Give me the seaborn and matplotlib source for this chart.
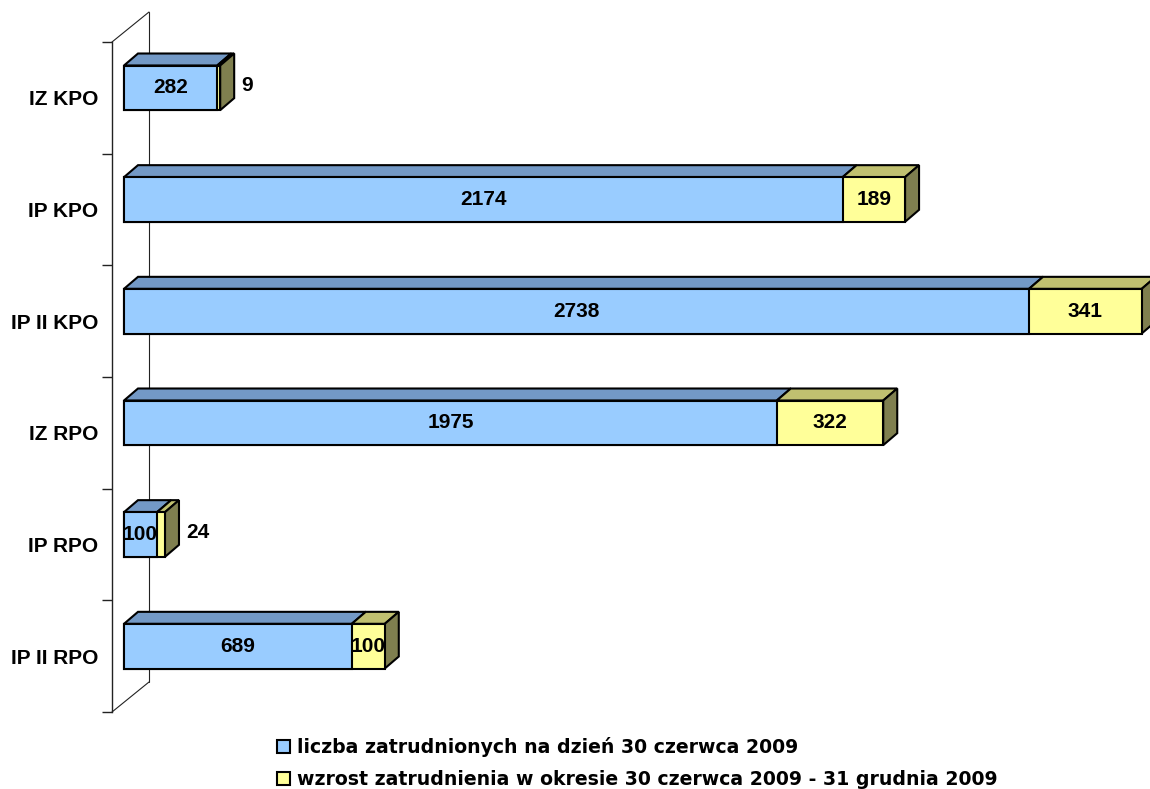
import matplotlib
matplotlib.use("Agg")
import numpy as np
import pandas as pd
import seaborn as sns
import matplotlib.pyplot as plt
from matplotlib.patches import Polygon
from matplotlib.lines import Line2D
from matplotlib.transforms import ScaledTranslation

# ---------------- data ----------------
categories = ["IZ KPO", "IP KPO", "IP II KPO", "IZ RPO", "IP RPO", "IP II RPO"]
employed = [282, 2174, 2738, 1975, 100, 689]
increase = [9, 189, 341, 322, 24, 100]
series_names = [
    "liczba zatrudnionych na dzień 30 czerwca 2009",
    "wzrost zatrudnienia w okresie 30 czerwca 2009 - 31 grudnia 2009",
]

# ---------------- style ----------------
BLUE, BLUE_TOP = "#99CCFF", "#7399C6"
YELLOW, YELLOW_TOP, YELLOW_SIDE = "#FFFF99", "#C0C070", "#7F7F4F"
LINE = "#222222"

df = pd.DataFrame({"kategoria": categories, "zatrudnieni": employed, "wzrost": increase})
df["razem"] = df["zatrudnieni"] + df["wzrost"]

sns.set_theme(style="white")
plt.rcParams["font.family"] = ["Liberation Sans", "DejaVu Sans"]
plt.rcParams["font.weight"] = "bold"
plt.rcParams["text.color"] = "black"
plt.rcParams["axes.labelcolor"] = "black"
plt.rcParams["ytick.color"] = "black"
plt.rcParams["xtick.color"] = "black"

W, H, DPI = 1150, 789, 100
fig = plt.figure(figsize=(W / DPI, H / DPI), dpi=DPI)
ax = fig.add_axes([112 / W, 1 - 712 / H, 1036 / W, 670 / H])

bar_kw = dict(orient="h", saturation=1, width=0.4, edgecolor="black",
              linewidth=1.5, errorbar=None, ax=ax)
sns.barplot(data=df, x="razem", y="kategoria", color=YELLOW,
            label=series_names[1], **bar_kw)
sns.barplot(data=df, x="zatrudnieni", y="kategoria", color=BLUE,
            label=series_names[0], **bar_kw)

XLIM = (-36.3, 3098.0)
YLIM = (len(categories) - 0.5, -0.5)
ax.set_xlim(*XLIM)
ax.set_ylim(*YLIM)

# legend (before transform changes)
handles, labels = ax.get_legend_handles_labels()
leg = ax.legend(handles[::-1], labels[::-1], loc="upper left",
                bbox_to_anchor=(277 / W, 1 - 737 / H), bbox_transform=fig.transFigure,
                frameon=False, borderpad=0, borderaxespad=0,
                handlelength=0.7, handleheight=0.7, handletextpad=0.35,
                labelspacing=0.68,
                prop={"family": "DejaVu Sans", "weight": "bold", "size": 13.6})
for t in leg.get_texts():
    t.set_color("black")

# shift bars slightly upward relative to category centre (3D look)
data_tr = ax.transData + ScaledTranslation(0, 0.10, fig.dpi_scale_trans)
for p in list(ax.patches):
    p.set_transform(data_tr)

# depth of the 3D boxes in data units
ax_w_px = ax.get_position().width * W
ax_h_px = ax.get_position().height * H
dxd = 14 / (ax_w_px / (XLIM[1] - XLIM[0]))
dyd = 12 / (ax_h_px / (YLIM[0] - YLIM[1]))

yellow_bars = ax.containers[0]
blue_bars = ax.containers[1]
poly_kw = dict(edgecolor="black", linewidth=1.5, transform=data_tr,
               zorder=0.9, clip_on=False, joinstyle="miter")
for i in range(len(categories)):
    b, yb = blue_bars[i], yellow_bars[i]
    x0 = b.get_x()
    xb = x0 + b.get_width()
    xt = yb.get_x() + yb.get_width()
    yt = b.get_y()
    ybot = yt + b.get_height()
    ax.add_patch(Polygon([(x0, yt), (x0 + dxd, yt - dyd), (xb + dxd, yt - dyd), (xb, yt)],
                         facecolor=BLUE_TOP, **poly_kw))
    ax.add_patch(Polygon([(xb, yt), (xb + dxd, yt - dyd), (xt + dxd, yt - dyd), (xt, yt)],
                         facecolor=YELLOW_TOP, **poly_kw))
    ax.add_patch(Polygon([(xt, yt), (xt + dxd, yt - dyd), (xt + dxd, ybot - dyd), (xt, ybot)],
                         facecolor=YELLOW_SIDE, **poly_kw))
    ymid = (yt + ybot) / 2
    ax.text((x0 + xb) / 2, ymid, f"{employed[i]}", ha="center", va="center",
            fontsize=15, fontweight="bold", color="black", transform=data_tr, zorder=5)
    if increase[i] >= 50:
        ax.text((xb + xt) / 2, ymid, f"{increase[i]}", ha="center", va="center",
                fontsize=15, fontweight="bold", color="black", transform=data_tr, zorder=5)
    else:
        out_tr = data_tr + ScaledTranslation(0.21, 0.02, fig.dpi_scale_trans)
        ax.text(xt, ymid, f"{increase[i]}", ha="left", va="center",
                fontsize=15, fontweight="bold", color="black", transform=out_tr,
                zorder=5, clip_on=False)

# back wall of the 3D plot (drawn inside the axes, behind the bars)
pos = ax.get_position()
fx0, fy0, fy1 = pos.x0 * W / DPI, pos.y0 * H / DPI, pos.y1 * H / DPI
wdx, wdy = 0.37, 0.30
wall_kw = dict(color=LINE, linewidth=0.8, transform=fig.dpi_scale_trans,
               zorder=0.3, clip_on=False)
ax.add_line(Line2D([fx0 + wdx, fx0 + wdx], [fy0 + wdy, fy1 + wdy], **wall_kw))
ax.add_line(Line2D([fx0, fx0 + wdx], [fy1, fy1 + wdy], **wall_kw))
ax.add_line(Line2D([fx0, fx0 + wdx], [fy0, fy0 + wdy], **wall_kw))

ax.set_xlim(*XLIM)
ax.set_ylim(*YLIM)

# axes decoration
for s in ["top", "right", "bottom"]:
    ax.spines[s].set_visible(False)
ax.spines["left"].set_color(LINE)
ax.spines["left"].set_linewidth(1.0)
ax.set_xticks([])
ax.set_xlabel("")
ax.set_ylabel("")
ax.set_yticks(np.arange(-0.5, len(categories), 1), labels=[""] * (len(categories) + 1))
ax.set_yticks(np.arange(len(categories)), labels=categories, minor=True)
ax.tick_params(axis="y", which="major", left=True, length=7.2, width=1.0, color=LINE)
ax.tick_params(axis="y", which="minor", left=True, length=0, pad=10, labelsize=15,
               labelcolor="black")
for lbl in ax.get_yticklabels(minor=True):
    lbl.set_fontweight("bold")

fig.savefig("out.png", dpi=DPI)
